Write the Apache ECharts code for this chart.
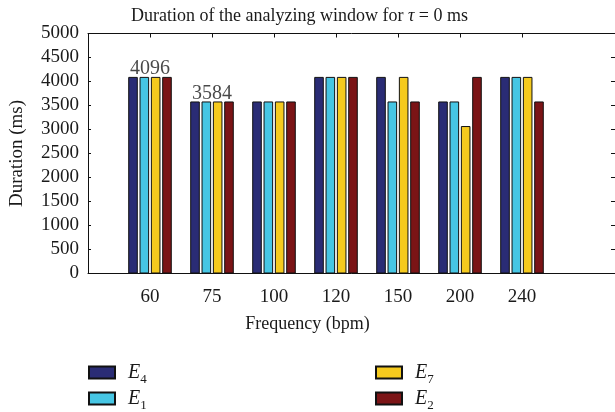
<!DOCTYPE html>
<html><head><meta charset="utf-8">
<script src="https://cdn.jsdelivr.net/npm/echarts@6/dist/echarts.min.js"></script>
<style>html,body{margin:0;padding:0;background:#fff}#c{width:615px;height:412px}</style>
</head><body><div id="c"></div>
<script>
const categories = ['60', '75', '100', '120', '150', '200', '240'];
const seriesNames = ['E4', 'E1', 'E7', 'E2'];
const valuesE4 = [4096, 3584, 3584, 4096, 4096, 3584, 4096];
const valuesE1 = [4096, 3584, 3584, 4096, 3584, 3584, 4096];
const valuesE7 = [4096, 3584, 3584, 4096, 4096, 3072, 4096];
const valuesE2 = [4096, 3584, 3584, 4096, 3584, 4096, 3584];
const annotCats = ['60', '75'];
const annotValues = [4096, 3584];
const yTicks = [0, 500, 1000, 1500, 2000, 2500, 3000, 3500, 4000, 4500, 5000];

const colors = ['#2a2c75', '#46c6e4', '#f5ca1e', '#7b1416'];
const allValues = [valuesE4, valuesE1, valuesE7, valuesE2];
const catPos = categories.map((c, i) => i + 1);
const FONT = '"Liberation Serif", "DejaVu Serif", serif';
const INK = '#1a1a1a';

const series = seriesNames.map((n, k) => ({
  name: n, type: 'bar', xAxisIndex: 0, yAxisIndex: 0,
  barWidth: 9.6, barGap: '18%',
  itemStyle: { color: colors[k], borderColor: '#111', borderWidth: 1 },
  data: allValues[k].map((v, i) => [catPos[i], v])
}));
series.push({
  type: 'scatter', symbolSize: 0, silent: true,
  data: annotCats.map((c, i) => [categories.indexOf(c) + 1, annotValues[i]]),
  label: { show: true, position: 'top', distance: -2, formatter: p => String(p.value[1]),
    fontFamily: FONT, fontSize: 20, color: INK }
});

const legendRich = {
  e: { fontFamily: FONT, fontStyle: 'italic', fontSize: 20, color: INK, lineHeight: 27,
       verticalAlign: 'middle', padding: [0, 0, 0, 8] },
  s: { fontFamily: FONT, fontSize: 13, color: INK, lineHeight: 13, verticalAlign: 'bottom' }
};
const legendFmt = n => '{e|' + n[0] + '}{s|' + n.slice(1) + '}';
const legendPos = [[83, 357.5], [83, 383.5], [370, 357.5], [370, 383.5]];
const legends = seriesNames.map((n, k) => ({
  data: [n], left: legendPos[k][0], top: legendPos[k][1], icon: 'rect',
  itemWidth: 26, itemHeight: 12, itemGap: 10, formatter: legendFmt,
  textStyle: { rich: legendRich }
}));

const chart = echarts.init(document.getElementById('c'));
chart.setOption({
  animation: false,
  backgroundColor: '#fff',
  title: {
    text: 'Duration of the analyzing window for {i|τ} = 0 ms',
    left: 126, top: 2,
    textStyle: { fontFamily: FONT, fontSize: 18, fontWeight: 'normal', color: INK,
      rich: { i: { fontFamily: FONT, fontStyle: 'italic', fontSize: 18, color: INK } } }
  },
  grid: { left: 88, top: 33.5, width: 528.7, height: 240, containLabel: false },
  legend: legends,
  xAxis: [
    { type: 'value', position: 'bottom', min: 0, max: 8.5, interval: 1,
      name: 'Frequency (bpm)', nameLocation: 'middle', nameGap: 42,
      nameTextStyle: { fontFamily: FONT, fontSize: 18, color: INK, padding: [0, 88, 0, 0] },
      axisLine: { show: true, lineStyle: { color: '#111', width: 1 } },
      axisTick: { show: false }, splitLine: { show: false },
      axisLabel: { customValues: catPos, formatter: v => categories[Math.round(v) - 1] || '',
        fontFamily: FONT, fontSize: 19, color: INK, margin: 14 } },
    { type: 'value', position: 'top', min: 0, max: 8.5, interval: 1,
      axisLine: { show: true, onZero: false, lineStyle: { color: '#111', width: 1 } },
      axisTick: { show: true, inside: true, length: 4, customValues: catPos, lineStyle: { color: '#111' } },
      axisLabel: { show: false }, splitLine: { show: false } }
  ],
  yAxis: [
    { type: 'value', position: 'left', min: 0, max: 5000, interval: 500,
      name: 'Duration (ms)', nameLocation: 'middle', nameGap: 61,
      nameTextStyle: { fontFamily: FONT, fontSize: 19, color: INK },
      axisLine: { show: true, lineStyle: { color: '#111', width: 1 } },
      axisTick: { show: true, inside: true, length: 3, lineStyle: { color: '#111' } },
      splitLine: { show: false },
      axisLabel: { customValues: yTicks, formatter: v => String(v),
        fontFamily: FONT, fontSize: 19, color: INK, margin: 9 } },
    { type: 'value', position: 'right', min: 0, max: 5000, interval: 500,
      axisLine: { show: true, onZero: false, lineStyle: { color: '#111', width: 1 } },
      axisTick: { show: true, inside: true, length: 4, lineStyle: { color: '#111' } },
      axisLabel: { show: false }, splitLine: { show: false } }
  ],
  series: series
});
</script></body></html>
